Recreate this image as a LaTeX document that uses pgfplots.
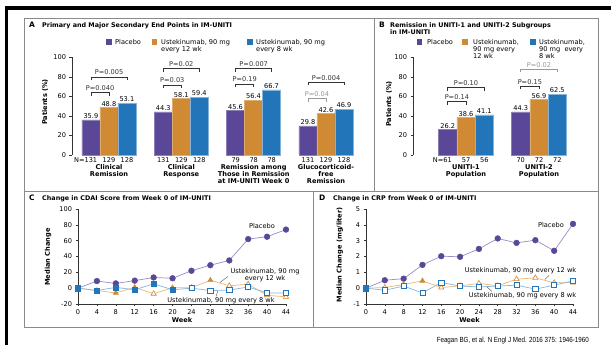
\documentclass[border=0pt]{standalone}
\usepackage{fontspec}
\setmainfont{DejaVu Sans}
\newfontfamily\narrowfont[FakeStretch=0.84]{Liberation Sans}
\usepackage{pgfplots}
\pgfplotsset{compat=1.18}
\definecolor{pl}{HTML}{5B4797}
\definecolor{or}{HTML}{D08A34}
\definecolor{bl}{HTML}{2275B9}
\definecolor{plL}{HTML}{9A8CCB}
\definecolor{orL}{HTML}{EDB877}
\definecolor{blL}{HTML}{86B6E0}
\definecolor{frm}{HTML}{8A8A8A}
\newcommand\fs{\fontsize{6.6}{7}\selectfont}
\newcommand\fb{\fontsize{6.6}{7}\selectfont\bfseries}
\newcommand\ft{\fontsize{6.4}{8}\selectfont\bfseries}
\newcommand\brk[5]{%
  \draw[#5, line width=0.5pt] (#1,#3-3.5) -- (#1,#3) -- (#2,#3) -- (#2,#3-3.5);
  \node[text=#5, font=\fs, anchor=base, inner sep=0pt] at ({(#1+#2)/2},#3+1.8) {#4};}
\newcommand\tx[3]{\node[anchor=base west, inner sep=0pt, font=\fs] at (#1,#2) {#3};}
\newcommand\tc[3]{\node[anchor=base, inner sep=0pt, font=\fs] at (#1,#2) {#3};}
\newcommand\tb[3]{\node[anchor=base, inner sep=0pt, font=\fb] at (#1,#2) {#3};}
\pgfplotsset{
  /pgf/number format/assume math mode=true,
  myax/.style={scale only axis, anchor=south west, clip=false, tick align=outside,
    major tick length=2.5pt, tick style={black!80, line width=0.5pt},
    axis line style={-, black!80, line width=0.5pt},
    tick label style={font=\fs}, label style={font=\fb}},
  barax/.style={ybar=0pt, bar width=#1,
    nodes near coords={\pgfmathprintnumber[fixed,fixed zerofill,precision=1]{\pgfplotspointmeta}},
    every node near coord/.append style={font=\fs, text=black, inner sep=1pt}},
}
\begin{document}
\begin{tikzpicture}
\begin{scope}[x=1pt,y=1pt]
\useasboundingbox (0,0) rectangle (611,345);
\fill[white] (0,0) rectangle (611,345);
\fill[black] (5,335) rectangle (611,338.5);
\fill[black] (5,0) rectangle (7.5,338.5);
\draw[frm, line width=0.8pt] (24,18) rectangle (598,327);
\draw[frm, line width=0.8pt] (24,154) -- (598,154);
\draw[frm, line width=0.8pt] (374,154) -- (374,327);
\draw[frm, line width=0.8pt] (313,18) -- (313,154);

% ---------- titles
\node[anchor=base west, inner sep=0pt, font=\fontsize{7.5}{8}\selectfont\bfseries] at (29,317.7) {A};
\node[anchor=base west, inner sep=0pt, font=\ft] at (42,317.7) {Primary and Major Secondary End Points in IM-UNITI};
\node[anchor=base west, inner sep=0pt, font=\fontsize{7.5}{8}\selectfont\bfseries] at (379,317.7) {B};
\node[anchor=base west, inner sep=0pt, font=\ft] at (390,317.7) {Remission in UNITI-1 and UNITI-2 Subgroups};
\node[anchor=base west, inner sep=0pt, font=\ft] at (390,310.4) {in IM-UNITI};
\node[anchor=base west, inner sep=0pt, font=\fontsize{7.5}{8}\selectfont\bfseries] at (29,144.4) {C};
\node[anchor=base west, inner sep=0pt, font=\ft] at (42,144.4) {Change in CDAI Score from Week 0 of IM-UNITI};
\node[anchor=base west, inner sep=0pt, font=\fontsize{7.5}{8}\selectfont\bfseries] at (319,144.4) {D};
\node[anchor=base west, inner sep=0pt, font=\ft] at (333,144.4) {Change in CRP from Week 0 of IM-UNITI};

% ---------- legends
\fill[pl] (106.3,300.3) rectangle (111.7,305.7); \tx{115}{300.7}{Placebo}
\fill[or] (151.8,300.3) rectangle (157.2,305.7); \tx{161}{300.7}{Ustekinumab, 90 mg} \tx{161}{293.7}{every 12 wk}
\fill[bl] (247.3,300.3) rectangle (252.7,305.7); \tx{256}{300.7}{Ustekinumab, 90 mg} \tx{256}{293.7}{every 8 wk}

\fill[pl] (416.8,300.3) rectangle (422.2,305.7); \tx{427}{300.7}{Placebo}
\fill[or] (462.3,300.3) rectangle (467.7,305.7); \tx{473}{300.7}{Ustekinumab,} \tx{473}{293.7}{90 mg every} \tx{473}{286.7}{12 wk}
\fill[bl] (530.3,300.3) rectangle (535.7,305.7); \tx{539}{300.7}{Ustekinumab,} \tx{539}{293.7}{90 mg\ \ every} \tx{539}{286.7}{8 wk}

% A annotations
\brk{91}{109}{252.4}{P=0.040}{black!80}
\brk{91}{127}{268.2}{P=0.005}{black!80}
\brk{163.3}{181.3}{260.2}{P=0.03}{black!80}
\brk{163.3}{199.3}{276.8}{P=0.02}{black!80}
\brk{235.7}{253.7}{261.2}{P=0.19}{black!80}
\brk{235.7}{271.7}{276.8}{P=0.007}{black!80}
\brk{308}{326}{246.6}{P=0.04}{black!40}
\brk{308}{344}{263.1}{P=0.004}{black!80}

\node[anchor=base east, inner sep=0pt, font=\fs] at (97.4,182.7) {N=131};
\tc{109}{182.7}{129} \tc{127}{182.7}{128}
\tc{163.3}{182.7}{131} \tc{181.3}{182.7}{129} \tc{199.3}{182.7}{128}
\tc{235.7}{182.7}{79} \tc{253.7}{182.7}{78} \tc{271.7}{182.7}{78}
\tc{308}{182.7}{131} \tc{326}{182.7}{129} \tc{344}{182.7}{128}
\tb{109}{175.7}{Clinical} \tb{109}{168.7}{Remission}
\tb{181.3}{175.7}{Clinical} \tb{181.3}{168.7}{Response}
\tb{253.7}{175.7}{Remission among} \tb{253.7}{168.7}{Those in Remission} \tb{253.7}{161.7}{at IM-UNITI Week 0}
\tb{326}{175.7}{Glucocorticoid-} \tb{326}{168.7}{free} \tb{326}{161.7}{Remission}

% B annotations
\brk{447.7}{466}{243.3}{P=0.14}{black!80}
\brk{447.7}{484.3}{257.7}{P=0.10}{black!80}
\brk{520.7}{539}{259}{P=0.15}{black!80}
\brk{520.7}{557.3}{276}{P=0.02}{black!40}

\node[anchor=base east, inner sep=0pt, font=\fs] at (452,182.7) {N=61};
\tc{466}{182.7}{57} \tc{484.3}{182.7}{56}
\tc{520.7}{182.7}{70} \tc{539}{182.7}{72} \tc{557.3}{182.7}{72}
\tb{466}{175.7}{UNITI-1} \tb{466}{168.7}{Population}
\tb{539}{175.7}{UNITI-2} \tb{539}{168.7}{Population}

% C annotations
\tc{262}{116}{Placebo}
\tc{265}{71.7}{Ustekinumab, 90 mg} \tc{265}{64.7}{every 12 wk}
\draw[black!70, line width=0.4pt] (228,68.5) -- (220,62.5);
\tc{221}{42}{Ustekinumab, 90 mg every 8 wk}
\draw[black!70, line width=0.4pt] (216,48.5) -- (218,54.5);

% D annotations
\tc{551}{117}{Placebo}
\tc{520.5}{72}{Ustekinumab, 90 mg every 12 wk}
\draw[black!70, line width=0.4pt] (549,69.5) -- (544.8,65.5);
\tc{522.5}{47.7}{Ustekinumab, 90 mg every 8 wk}
\draw[black!70, line width=0.4pt] (492,53.5) -- (487,58);

% citation
\node[anchor=base east, inner sep=0pt, font=\narrowfont\fontsize{7.4}{8}\selectfont] at (589,2.5) {Feagan BG, et al. N Engl J Med. 2016 375: 1946-1960};
\end{scope}

% ---------- Panel A
\begin{axis}[myax, barax=18pt, at={(72pt,190pt)}, width=293.7pt, height=97.5pt,
  xmin=-0.51, xmax=3.55, ymin=0, ymax=100,
  axis y line*=left, axis x line=none, ytick={0,20,40,60,80,100},
  ylabel={Patients (\%)}, ylabel style={at={(axis description cs:-0.092,0.544)}, anchor=center}]
\addplot[fill=pl, draw=pl!70!white] coordinates {(0,35.9) (1,44.3) (2,45.6) (3,29.8)};
\addplot[fill=or, draw=or!70!white] coordinates {(0,48.8) (1,58.1) (2,56.4) (3,42.6)};
\addplot[fill=bl, draw=bl!55!white] coordinates {(0,53.1) (1,59.4) (2,66.7) (3,46.9)};
\end{axis}

% ---------- Panel B
\begin{axis}[myax, barax=18.3pt, at={(413pt,190pt)}, width=182pt, height=97.5pt,
  xmin=-0.726, xmax=1.767, ymin=0, ymax=100,
  axis y line*=left, axis x line=none, ytick={0,20,40,60,80,100},
  ylabel={Patients (\%)}, ylabel style={at={(axis description cs:-0.132,0.523)}, anchor=center}]
\addplot[fill=pl, draw=pl!70!white] coordinates {(0,26.2) (1,44.3)};
\addplot[fill=or, draw=or!70!white] coordinates {(0,38.6) (1,56.9)};
\addplot[fill=bl, draw=bl!55!white] coordinates {(0,41.1) (1,62.5)};
\end{axis}

% ---------- Panel C
\begin{axis}[myax, at={(78pt,41pt)}, width=208pt, height=95pt,
  xmin=0, xmax=44, ymin=-20, ymax=100, axis lines*=left,
  xtick={0,4,...,44}, ytick={-20,0,20,40,60,80,100},
  xlabel={Week}, xlabel style={at={(axis description cs:0.5,0)}, anchor=north, yshift=-9.5pt},
  ylabel={Median Change}, ylabel style={at={(axis description cs:-0.144,0.495)}, anchor=center}]
\addplot[plL, line width=0.7pt, mark=none] coordinates {(0,0) (4,9) (8,6) (12,9.5) (16,13.5) (20,12.5) (24,22) (28,29) (32,35) (36,62) (40,65) (44,74)};
\addplot[only marks, mark=*, mark size=2.9pt, mark options={fill=pl, draw=pl}] coordinates {(0,0) (4,9) (8,6) (12,9.5) (16,13.5) (20,12.5) (24,22) (28,29) (32,35) (36,62) (40,65) (44,74)};
\addplot[orL, line width=0.7pt, mark=none] coordinates {(0,0) (4,-3) (8,-6) (12,1) (16,-7) (20,0.5) (24,0.5) (28,10) (32,3) (36,5) (40,-9) (44,-11)};
\addplot[only marks, mark=triangle*, mark size=3pt, mark options={fill=or, draw=or}] coordinates {(0,0) (4,-3) (8,-6) (12,1) (20,0.5) (28,10)};
\addplot[only marks, mark=triangle*, mark size=3pt, mark options={fill=white, draw=or, line width=0.6pt}] coordinates {(16,-7) (24,0.5) (32,3) (36,5) (40,-9) (44,-11)};
\addplot[blL, line width=0.7pt, mark=none] coordinates {(0,0) (4,-3) (8,1) (12,-2) (16,5.5) (20,-2) (24,0) (28,-3) (32,-2.5) (36,1.5) (40,-6) (44,-6)};
\addplot[only marks, mark=square*, mark size=2.6pt, mark options={fill=bl, draw=bl}] coordinates {(0,0) (4,-3) (8,1) (12,-2) (16,5.5) (20,-2)};
\addplot[only marks, mark=square*, mark size=2.6pt, mark options={fill=white, draw=bl, line width=0.6pt}] coordinates {(24,0) (28,-3) (32,-2.5) (36,1.5) (40,-6) (44,-6)};
\end{axis}

% ---------- Panel D
\begin{axis}[myax, at={(366pt,41pt)}, width=207pt, height=95pt,
  xmin=0, xmax=44, ymin=-1, ymax=5, axis lines*=left,
  xtick={0,4,...,44}, ytick={-1,0,1,2,3,4,5},
  xlabel={Week}, xlabel style={at={(axis description cs:0.5,0)}, anchor=north, yshift=-9.5pt},
  ylabel={Median Change (mg/liter)}, ylabel style={at={(axis description cs:-0.126,0.516)}, anchor=center}]
\addplot[plL, line width=0.7pt, mark=none] coordinates {(0,0) (4,0.5) (8,0.6) (12,1.47) (16,2.02) (20,1.98) (24,2.48) (28,3.14) (32,2.86) (36,3.03) (40,2.36) (44,4.06)};
\addplot[only marks, mark=*, mark size=2.9pt, mark options={fill=pl, draw=pl}] coordinates {(0,0) (4,0.5) (8,0.6) (12,1.47) (16,2.02) (20,1.98) (24,2.48) (28,3.14) (32,2.86) (36,3.03) (40,2.36) (44,4.06)};
\addplot[orL, line width=0.7pt, mark=none] coordinates {(0,0) (4,0.04) (8,0.23) (12,0.46) (16,0.04) (20,0.15) (24,0.3) (28,0.15) (32,0.57) (36,0.65) (40,0.34) (44,0.36)};
\addplot[only marks, mark=triangle*, mark size=3pt, mark options={fill=or, draw=or}] coordinates {(0,0) (8,0.23) (12,0.46)};
\addplot[only marks, mark=triangle*, mark size=3pt, mark options={fill=white, draw=or, line width=0.6pt}] coordinates {(4,0.04) (16,0.04) (20,0.15) (24,0.3) (28,0.15) (32,0.57) (36,0.65) (40,0.34) (44,0.36)};
\addplot[blL, line width=0.7pt, mark=none] coordinates {(0,0) (4,-0.13) (8,0.13) (12,-0.3) (16,0.36) (20,0.13) (24,0.08) (28,0.13) (32,0.19) (36,-0.06) (40,0.19) (44,0.46)};
\addplot[only marks, mark=square*, mark size=2.6pt, mark options={fill=bl, draw=bl}] coordinates {(0,0)};
\addplot[only marks, mark=square*, mark size=2.6pt, mark options={fill=white, draw=bl, line width=0.6pt}] coordinates {(4,-0.13) (8,0.13) (12,-0.3) (16,0.36) (20,0.13) (24,0.08) (28,0.13) (32,0.19) (36,-0.06) (40,0.19) (44,0.46)};
\end{axis}
\end{tikzpicture}
\end{document}
